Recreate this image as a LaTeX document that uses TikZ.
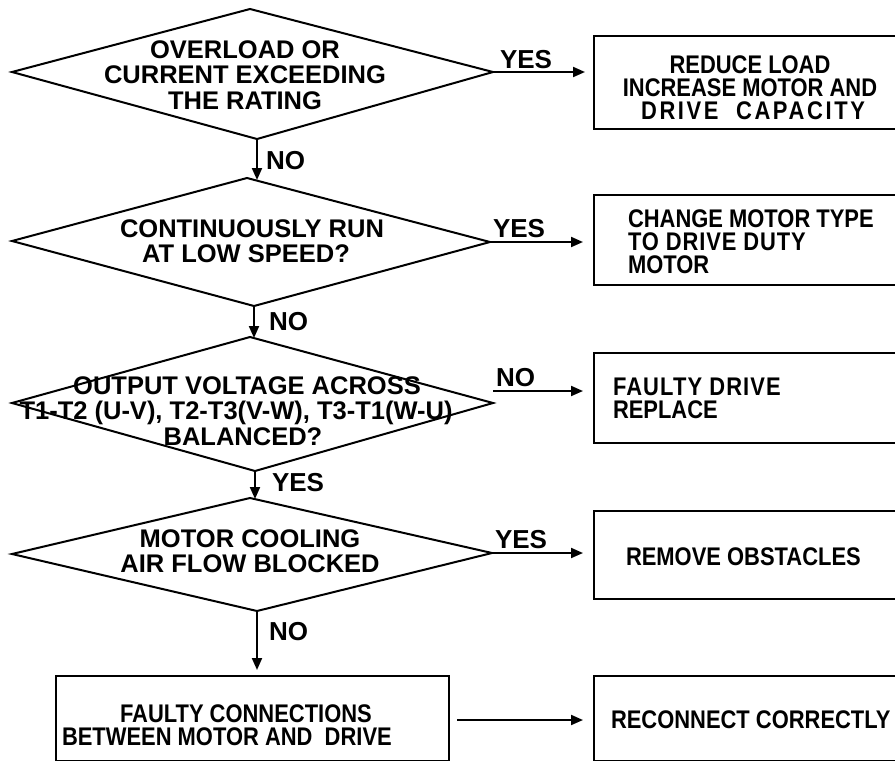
\documentclass[tikz,border=0pt]{standalone}
\usepackage{fontspec}
\usepackage{graphicx}
\setmainfont{Liberation Sans}
\usetikzlibrary{arrows.meta,calc}
% narrow setting used for the text inside the action boxes
\newcommand{\cond}[1]{\scalebox{0.86}[1]{#1}}
\newcommand{\spaced}[2]{\cond{\addfontfeatures{LetterSpace=#1}#2}}
\begin{document}
\begin{tikzpicture}[x=1pt,y=-1pt,
  line width=2pt,
  lbl/.style={font=\fontsize{26}{26}\selectfont\bfseries, inner sep=0pt},
  dtxt/.style={font=\fontsize{25.5}{25.5}\selectfont\bfseries, align=center, inner sep=0pt},
  btxt/.style={font=\fontsize{25.5}{23}\selectfont\bfseries, inner sep=0pt},
  arr/.style={-{Triangle[length=12pt,width=10pt]}, line width=2pt},
  outbox/.style={draw, line width=2pt, inner sep=0pt}]
\useasboundingbox (0,0) rectangle (895,761);
\clip (0,0) rectangle (895,761);

% decision diamonds: top, right, bottom, left corners
\coordinate (d1t) at (250,9);   \coordinate (d1r) at (493,72);
\coordinate (d1b) at (257,139); \coordinate (d1l) at (12,72);
\coordinate (d2t) at (247,178); \coordinate (d2r) at (490,242);
\coordinate (d2b) at (254,306); \coordinate (d2l) at (12,241);
\coordinate (d3t) at (250,337); \coordinate (d3r) at (493,403);
\coordinate (d3b) at (255,471); \coordinate (d3l) at (12,403);
\coordinate (d4t) at (250,498); \coordinate (d4r) at (492,553);
\coordinate (d4b) at (257,611); \coordinate (d4l) at (12,554);

\foreach \d in {d1,d2,d3,d4}
  \draw[line join=miter] (\d t) -- (\d r) -- (\d b) -- (\d l) -- cycle;

% action boxes (the right column runs off the page edge)
\node[outbox, anchor=north west, minimum width=320pt, minimum height=93pt] (b1) at (593,35) {};
\node[outbox, anchor=north west, minimum width=320pt, minimum height=90pt] (b2) at (593,194) {};
\node[outbox, anchor=north west, minimum width=320pt, minimum height=90pt] (b3) at (593,352) {};
\node[outbox, anchor=north west, minimum width=320pt, minimum height=88pt] (b4) at (593,510) {};
\node[outbox, anchor=north west, minimum width=393pt, minimum height=85pt] (b5) at (55,675) {};
\node[outbox, anchor=north west, minimum width=320pt, minimum height=85pt] (b6) at (593,675) {};

% texts of the diamonds
\node[dtxt] (t1) at (245,75) {OVERLOAD OR\\CURRENT EXCEEDING\\THE RATING};
\node[dtxt] (t2) at (246,241) {\hspace*{12pt}CONTINUOUSLY RUN\\AT LOW SPEED?};
\node[dtxt] (t3) at (236,411) {\hspace*{22pt}OUTPUT VOLTAGE ACROSS\\T1-T2 (U-V), T2-T3(V-W), T3-T1(W-U)\\\hspace*{14pt}BALANCED?};
\node[dtxt] (t4) at (250,551) {MOTOR COOLING\\AIR FLOW BLOCKED};

% texts of the boxes
\node[btxt, align=center] (bt1) at (750,88) {\cond{REDUCE LOAD}\\\cond{INCREASE MOTOR AND}\\\hspace*{6pt}\spaced{12}{DRIVE\ \ CAPACITY}};
\node[btxt, align=left, anchor=west] (bt2) at (627,242) {\cond{CHANGE MOTOR TYPE}\\\spaced{4}{TO DRIVE DUTY}\\\cond{MOTOR}};
\node[btxt, align=left, anchor=west] (bt3) at (612,398) {\spaced{5}{FAULTY DRIVE}\\\cond{REPLACE}};
\node[btxt, anchor=west] (bt4) at (625,557) {\cond{REMOVE OBSTACLES}};
\node[btxt, align=left, anchor=west] (bt5) at (61,725) {\hspace*{58pt}\cond{FAULTY CONNECTIONS}\\\cond{BETWEEN MOTOR AND\ \ DRIVE}};
\node[btxt, anchor=west] (bt6) at (610,720) {\cond{RECONNECT CORRECTLY}};

% flow downwards
\draw[arr] (d1b) -- ($(d1b |- d2t)+(0,2)$);
\draw[arr] (d2b) -- ($(d2b |- d3t)+(0,1)$);
\draw[arr] (d3b) -- ($(d3b |- d4t)+(0,1)$);
\draw[arr, shorten >=5pt] (d4b) -- (d4b |- b5.north);

% flow to the right
\draw[arr, shorten >=8pt] (d1r) -- (b1.west |- d1r);
\draw[arr, shorten >=10pt] (d2r) -- (b2.west |- d2r);
\coordinate (n3) at ($(d3r)+(0,-12)$);
\draw[arr, shorten >=10pt] (n3) -- (b3.west |- n3);
\draw[arr, shorten >=10pt] (d4r) -- (b4.west |- d4r);
\draw[arr, shorten <=7pt, shorten >=10pt] (b5.east |- bt6) -- (b6.west |- bt6);

% branch labels
\node[lbl, anchor=south west] (y1) at (499,70) {YES};
\node[lbl, anchor=west] (n1) at (265,161) {NO};
\node[lbl, anchor=south west] (y2) at (492,239) {YES};
\node[lbl, anchor=west] (n2) at (268,322) {NO};
\node[lbl, anchor=south west] (n3l) at (495,388) {NO};
\node[lbl, anchor=west] (y3) at (271,483) {YES};
\node[lbl, anchor=south west] (y4) at (494,550) {YES};
\node[lbl, anchor=west] (n4) at (268,632) {NO};
\end{tikzpicture}
\end{document}
